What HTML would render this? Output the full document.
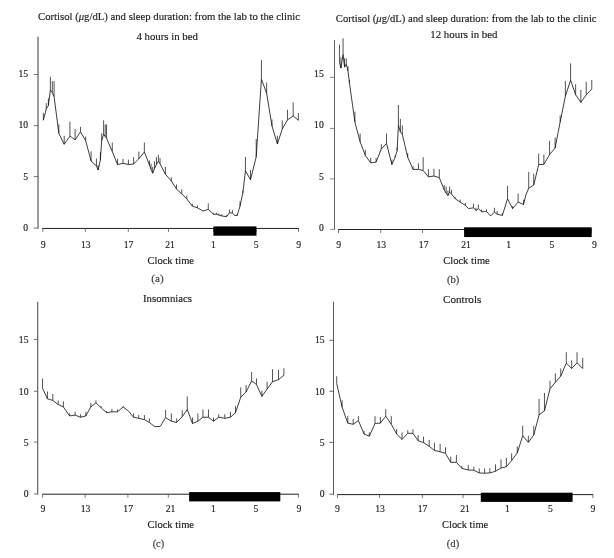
<!DOCTYPE html>
<html lang="en">
<head>
<meta charset="utf-8">
<title>Cortisol and sleep duration</title>
<style>
html,body{margin:0;padding:0;background:#fff;}
body{width:614px;height:558px;overflow:hidden;}
svg{display:block;font-family:'Liberation Serif', serif;}
</style>
</head>
<body>
<svg width="614" height="558" viewBox="0 0 614 558">
<rect width="614" height="558" fill="#fff"/>
<g id="panel-a">
<line x1="38.05" y1="36.8" x2="38.05" y2="228.8" stroke="#8a8a8a" stroke-width="1.7"/>
<line x1="33.7" y1="228.1" x2="38.05" y2="228.1" stroke="#555" stroke-width="0.8"/>
<text x="25.72" y="231.0" text-anchor="middle" font-size="11.2" fill="#1c1c1c" stroke="#1c1c1c" stroke-width="0.16" textLength="4.85" lengthAdjust="spacingAndGlyphs">0</text>
<line x1="33.7" y1="176.6" x2="38.05" y2="176.6" stroke="#555" stroke-width="0.8"/>
<text x="25.72" y="179.7" text-anchor="middle" font-size="11.2" fill="#1c1c1c" stroke="#1c1c1c" stroke-width="0.16" textLength="4.85" lengthAdjust="spacingAndGlyphs">5</text>
<line x1="33.7" y1="125.6" x2="38.05" y2="125.6" stroke="#555" stroke-width="0.8"/>
<text x="23.3" y="128.4" text-anchor="middle" font-size="11.2" fill="#1c1c1c" stroke="#1c1c1c" stroke-width="0.16" textLength="9.7" lengthAdjust="spacingAndGlyphs">10</text>
<line x1="33.7" y1="74.5" x2="38.05" y2="74.5" stroke="#555" stroke-width="0.8"/>
<text x="23.3" y="76.9" text-anchor="middle" font-size="11.2" fill="#1c1c1c" stroke="#1c1c1c" stroke-width="0.16" textLength="9.7" lengthAdjust="spacingAndGlyphs">15</text>
<line x1="42.2" y1="228.45" x2="298.9" y2="228.45" stroke="#141414" stroke-width="0.95"/>
<line x1="42.8" y1="228.45" x2="42.8" y2="231.85" stroke="#555" stroke-width="0.8"/>
<line x1="85.4" y1="228.45" x2="85.4" y2="231.85" stroke="#555" stroke-width="0.8"/>
<line x1="128.3" y1="228.45" x2="128.3" y2="231.85" stroke="#555" stroke-width="0.8"/>
<line x1="168.5" y1="228.45" x2="168.5" y2="231.85" stroke="#555" stroke-width="0.8"/>
<line x1="213.5" y1="228.45" x2="213.5" y2="231.85" stroke="#555" stroke-width="0.8"/>
<line x1="256.0" y1="228.45" x2="256.0" y2="231.85" stroke="#555" stroke-width="0.8"/>
<line x1="298.5" y1="228.45" x2="298.5" y2="231.85" stroke="#555" stroke-width="0.8"/>
<text x="43.1" y="247.8" text-anchor="middle" font-size="11.2" fill="#1c1c1c" stroke="#1c1c1c" stroke-width="0.16" textLength="4.85" lengthAdjust="spacingAndGlyphs">9</text>
<text x="85.8" y="247.8" text-anchor="middle" font-size="11.2" fill="#1c1c1c" stroke="#1c1c1c" stroke-width="0.16" textLength="9.7" lengthAdjust="spacingAndGlyphs">13</text>
<text x="128.5" y="247.8" text-anchor="middle" font-size="11.2" fill="#1c1c1c" stroke="#1c1c1c" stroke-width="0.16" textLength="9.7" lengthAdjust="spacingAndGlyphs">17</text>
<text x="170.1" y="247.8" text-anchor="middle" font-size="11.2" fill="#1c1c1c" stroke="#1c1c1c" stroke-width="0.16" textLength="9.7" lengthAdjust="spacingAndGlyphs">21</text>
<text x="213.5" y="247.8" text-anchor="middle" font-size="11.2" fill="#1c1c1c" stroke="#1c1c1c" stroke-width="0.16" textLength="4.85" lengthAdjust="spacingAndGlyphs">1</text>
<text x="256.1" y="247.8" text-anchor="middle" font-size="11.2" fill="#1c1c1c" stroke="#1c1c1c" stroke-width="0.16" textLength="4.85" lengthAdjust="spacingAndGlyphs">5</text>
<text x="298.7" y="247.8" text-anchor="middle" font-size="11.2" fill="#1c1c1c" stroke="#1c1c1c" stroke-width="0.16" textLength="4.85" lengthAdjust="spacingAndGlyphs">9</text>
<rect x="213.4" y="226.4" width="43.10" height="9.30" fill="#000"/>
<text x="170.75" y="264.0" text-anchor="middle" font-size="11.2" fill="#1c1c1c" stroke="#1c1c1c" stroke-width="0.16" textLength="46.6" lengthAdjust="spacingAndGlyphs">Clock time</text>
<text x="157.5" y="282.4" text-anchor="middle" font-size="11.2" fill="#3a3a3a" stroke="#3a3a3a" stroke-width="0.16" textLength="12.4" lengthAdjust="spacingAndGlyphs">(a)</text>
<text x="169.0" y="19.9" text-anchor="middle" font-size="11.2" fill="#1c1c1c" stroke="#1c1c1c" stroke-width="0.16" textLength="262.0" lengthAdjust="spacingAndGlyphs">Cortisol (<tspan font-style="italic">μ</tspan>g/dL) and sleep duration: from the lab to the clinic</text>
<text x="167.2" y="39.7" text-anchor="middle" font-size="11.2" fill="#1c1c1c" stroke="#1c1c1c" stroke-width="0.16" textLength="61.6" lengthAdjust="spacingAndGlyphs">4 hours in bed</text>
<path d="M43.36 120.22 L46.29 108.82 L48.40 105.57 L50.36 90.11 L52.31 92.55 L54.10 96.62 L58.83 133.36 L64.20 144.27 L69.90 136.13 L75.11 139.87 L80.49 131.74 L85.70 140.69 L91.07 161.03 L96.45 165.91 L98.08 169.98 L100.36 160.22 L101.66 140.69 L103.62 134.18 L105.24 136.62 L106.55 138.25 L112.28 151.50 L117.49 164.52 L123.03 163.38 L128.40 164.52 L133.62 164.03 L138.83 158.82 L144.36 151.99 L149.58 165.33 L151.04 169.40 L152.67 173.15 L154.46 168.59 L156.42 164.52 L158.37 161.27 L160.00 163.71 L165.37 174.29 L171.30 180.92 L176.51 189.06 L181.73 193.94 L186.78 198.82 L192.31 206.15 L197.36 207.78 L203.06 211.03 L208.27 209.40 L213.65 214.29 L216.42 214.29 L218.86 215.10 L221.79 215.91 L226.51 216.73 L229.45 212.66 L232.38 213.15 L234.66 215.42 L237.10 215.59 L240.03 206.15 L242.80 193.13 L245.46 170.80 L250.50 179.75 L256.21 156.96 L261.42 79.29 L266.63 93.13 L272.00 126.04 L277.38 143.94 L282.26 128.97 L287.48 119.86 L293.18 115.95 L298.39 120.34" fill="none" stroke="#000" stroke-width="0.76" stroke-linejoin="round"/>
<path d="M43.36 120.22V112.89M46.29 108.82V103.13M48.40 105.57V98.25M50.36 90.11V76.76M52.31 92.55V81.16M54.10 96.62V81.16M58.83 133.36V124.41M64.20 144.27V135.80M69.90 136.13V121.65M75.11 139.87V128.97M80.49 131.74V126.85M85.70 140.69V136.62M91.07 161.03V151.27M96.45 165.91V158.59M98.08 169.98V165.10M100.36 160.22V152.08M101.66 140.69V133.36M103.62 134.18V120.34M105.24 136.62V124.41M106.55 138.25V124.41M112.28 151.50V142.55M117.49 164.52V158.82M123.03 163.38V158.82M128.40 164.52V159.64M133.62 164.03V157.20M138.83 158.82V151.50M144.36 151.99V142.55M149.58 165.33V160.45M151.04 169.40V163.71M152.67 173.15V166.96M154.46 168.59V161.27M156.42 164.52V157.20M158.37 161.27V154.76M160.00 163.71V158.01M165.37 174.29V166.96M171.30 180.92V177.34M176.51 189.06V184.50M181.73 193.94V189.39M186.78 198.82V195.57M192.31 206.15V203.71M197.36 207.78V205.33M208.27 209.40V203.38M213.65 214.29V212.66M216.42 214.29V212.66M218.86 215.10V213.47M221.79 215.91V214.29M226.51 216.73V215.10M229.45 212.66V209.40M232.38 213.15V209.89M237.10 215.59V214.29M240.03 206.15V201.27M242.80 193.13V190.69M245.46 170.80V156.96M250.50 179.75V169.98M256.21 156.96V139.06M261.42 79.29V60.09M266.63 93.13V82.55M272.00 126.04V119.53M277.38 143.94V135.80M282.26 128.97V120.34M287.48 119.86V109.76M293.18 115.95V102.44M298.39 120.34V113.02" fill="none" stroke="#0a0a0a" stroke-width="0.7"/>
</g>
<g id="panel-b">
<line x1="334.5" y1="40.0" x2="334.5" y2="229.7" stroke="#3c3c3c" stroke-width="0.8"/>
<line x1="330.2" y1="229.35" x2="334.5" y2="229.35" stroke="#666" stroke-width="0.8"/>
<text x="321.32" y="231.0" text-anchor="middle" font-size="11.2" fill="#1c1c1c" stroke="#1c1c1c" stroke-width="0.16" textLength="4.85" lengthAdjust="spacingAndGlyphs">0</text>
<line x1="330.2" y1="178.9" x2="334.5" y2="178.9" stroke="#666" stroke-width="0.8"/>
<text x="321.32" y="179.7" text-anchor="middle" font-size="11.2" fill="#1c1c1c" stroke="#1c1c1c" stroke-width="0.16" textLength="4.85" lengthAdjust="spacingAndGlyphs">5</text>
<line x1="330.2" y1="128.4" x2="334.5" y2="128.4" stroke="#666" stroke-width="0.8"/>
<text x="318.9" y="128.4" text-anchor="middle" font-size="11.2" fill="#1c1c1c" stroke="#1c1c1c" stroke-width="0.16" textLength="9.7" lengthAdjust="spacingAndGlyphs">10</text>
<line x1="330.2" y1="77.3" x2="334.5" y2="77.3" stroke="#666" stroke-width="0.8"/>
<text x="318.9" y="76.9" text-anchor="middle" font-size="11.2" fill="#1c1c1c" stroke="#1c1c1c" stroke-width="0.16" textLength="9.7" lengthAdjust="spacingAndGlyphs">15</text>
<line x1="338.1" y1="229.5" x2="591.5" y2="229.5" stroke="#141414" stroke-width="0.95"/>
<line x1="338.5" y1="229.5" x2="338.5" y2="233.1" stroke="#555" stroke-width="0.8"/>
<line x1="380.7" y1="229.5" x2="380.7" y2="233.1" stroke="#555" stroke-width="0.8"/>
<line x1="422.5" y1="229.5" x2="422.5" y2="233.1" stroke="#555" stroke-width="0.8"/>
<line x1="464.8" y1="229.5" x2="464.8" y2="233.1" stroke="#555" stroke-width="0.8"/>
<line x1="507.0" y1="229.5" x2="507.0" y2="233.1" stroke="#555" stroke-width="0.8"/>
<line x1="549.4" y1="229.5" x2="549.4" y2="233.1" stroke="#555" stroke-width="0.8"/>
<line x1="591.2" y1="229.5" x2="591.2" y2="233.1" stroke="#555" stroke-width="0.8"/>
<text x="338.7" y="247.8" text-anchor="middle" font-size="11.2" fill="#1c1c1c" stroke="#1c1c1c" stroke-width="0.16" textLength="4.85" lengthAdjust="spacingAndGlyphs">9</text>
<text x="381.3" y="247.8" text-anchor="middle" font-size="11.2" fill="#1c1c1c" stroke="#1c1c1c" stroke-width="0.16" textLength="9.7" lengthAdjust="spacingAndGlyphs">13</text>
<text x="423.7" y="247.8" text-anchor="middle" font-size="11.2" fill="#1c1c1c" stroke="#1c1c1c" stroke-width="0.16" textLength="9.7" lengthAdjust="spacingAndGlyphs">17</text>
<text x="466.1" y="247.8" text-anchor="middle" font-size="11.2" fill="#1c1c1c" stroke="#1c1c1c" stroke-width="0.16" textLength="9.7" lengthAdjust="spacingAndGlyphs">21</text>
<text x="508.7" y="247.8" text-anchor="middle" font-size="11.2" fill="#1c1c1c" stroke="#1c1c1c" stroke-width="0.16" textLength="4.85" lengthAdjust="spacingAndGlyphs">1</text>
<text x="551.85" y="247.8" text-anchor="middle" font-size="11.2" fill="#1c1c1c" stroke="#1c1c1c" stroke-width="0.16" textLength="4.85" lengthAdjust="spacingAndGlyphs">5</text>
<text x="594.3" y="247.8" text-anchor="middle" font-size="11.2" fill="#1c1c1c" stroke="#1c1c1c" stroke-width="0.16" textLength="4.85" lengthAdjust="spacingAndGlyphs">9</text>
<rect x="464.1" y="227.3" width="127.60" height="9.75" fill="#000"/>
<text x="466.5" y="264.0" text-anchor="middle" font-size="11.2" fill="#1c1c1c" stroke="#1c1c1c" stroke-width="0.16" textLength="46.6" lengthAdjust="spacingAndGlyphs">Clock time</text>
<text x="453.2" y="283.0" text-anchor="middle" font-size="11.2" fill="#3a3a3a" stroke="#3a3a3a" stroke-width="0.16" textLength="12.4" lengthAdjust="spacingAndGlyphs">(b)</text>
<text x="466.2" y="22.0" text-anchor="middle" font-size="11.2" fill="#1c1c1c" stroke="#1c1c1c" stroke-width="0.16" textLength="260.8" lengthAdjust="spacingAndGlyphs">Cortisol (<tspan font-style="italic">μ</tspan>g/dL) and sleep duration: from the lab to the clinic</text>
<text x="463.9" y="38.0" text-anchor="middle" font-size="11.2" fill="#1c1c1c" stroke="#1c1c1c" stroke-width="0.16" textLength="67.2" lengthAdjust="spacingAndGlyphs">12 hours in bed</text>
<path d="M339.46 62.22 L340.93 68.08 L343.08 54.41 L344.54 67.11 L346.30 64.18 L347.96 71.01 L349.43 82.73 L354.92 122.21 L360.13 141.74 L365.34 155.57 L370.72 162.89 L376.09 162.08 L381.30 149.06 L386.51 143.36 L391.89 164.52 L395.15 157.20 L397.10 150.69 L398.40 125.33 L400.36 131.84 L402.31 134.29 L407.69 157.20 L413.06 169.40 L418.44 169.40 L423.16 170.54 L428.40 176.85 L433.94 176.04 L439.32 177.67 L444.20 189.87 L446.16 193.13 L447.95 195.57 L449.58 192.31 L451.53 193.94 L455.28 198.82 L460.16 202.08 L465.37 205.33 L468.63 208.59 L473.52 207.78 L475.96 210.54 L478.40 208.59 L481.66 211.84 L486.55 211.52 L490.62 215.91 L494.36 212.17 L497.13 214.29 L502.35 215.42 L507.54 198.82 L512.59 208.59 L518.13 202.08 L523.50 204.52 L525.94 194.76 L528.71 188.25 L533.76 184.99 L538.65 164.65 L543.86 164.32 L549.58 154.52 L555.11 148.01 L560.16 121.97 L565.37 96.38 L570.59 80.11 L575.64 94.76 L580.85 102.41 L586.22 94.76 L591.76 89.06" fill="none" stroke="#000" stroke-width="0.76" stroke-linejoin="round"/>
<path d="M339.46 62.22V44.65M340.93 68.08V57.34M343.08 54.41V38.30M344.54 67.11V58.32M346.30 64.18V58.32M347.96 71.01V66.13M349.43 82.73V79.80M354.92 122.21V111.63M360.13 141.74V133.60M365.34 155.57V149.87M370.72 162.89V158.01M376.09 162.08V158.01M381.30 149.06V144.18M386.51 143.36V133.60M391.89 164.52V159.64M395.15 157.20V155.57M397.10 150.69V147.43M398.40 125.33V104.99M400.36 131.84V118.82M402.31 134.29V125.33M407.69 157.20V153.13M413.06 169.40V166.15M418.44 169.40V163.38M423.16 170.54V157.20M428.40 176.85V169.20M433.94 176.04V168.72M439.32 177.67V169.20M444.20 189.87V184.99M446.16 193.13V186.62M447.95 195.57V190.69M449.58 192.31V186.62M451.53 193.94V189.87M455.28 198.82V197.20M460.16 202.08V199.64M465.37 205.33V202.89M473.52 207.78V203.71M475.96 210.54V207.78M478.40 208.59V204.52M481.66 211.84V209.40M486.55 211.52V209.40M494.36 212.17V207.78M497.13 214.29V211.03M502.35 215.42V213.47M507.54 198.82V185.80M512.59 208.59V206.15M518.13 202.08V193.62M523.50 204.52V199.64M528.71 188.25V171.97M533.76 184.99V173.60M538.65 164.65V153.58M543.86 164.32V154.56M549.58 154.52V140.69M555.11 148.01V137.43M560.16 121.97V115.46M565.37 96.38V80.92M570.59 80.11V63.35M575.64 94.76V84.18M580.85 102.41V89.87M586.22 94.76V81.74M591.76 89.06V80.11" fill="none" stroke="#0a0a0a" stroke-width="0.7"/>
</g>
<g id="panel-c">
<line x1="37.7" y1="301.8" x2="37.7" y2="494.5" stroke="#555" stroke-width="1.1"/>
<line x1="34.0" y1="493.9" x2="37.7" y2="493.9" stroke="#555" stroke-width="0.8"/>
<text x="26.07" y="497.4" text-anchor="middle" font-size="11.2" fill="#1c1c1c" stroke="#1c1c1c" stroke-width="0.16" textLength="4.85" lengthAdjust="spacingAndGlyphs">0</text>
<line x1="34.0" y1="442.1" x2="37.7" y2="442.1" stroke="#555" stroke-width="0.8"/>
<text x="26.07" y="445.8" text-anchor="middle" font-size="11.2" fill="#1c1c1c" stroke="#1c1c1c" stroke-width="0.16" textLength="4.85" lengthAdjust="spacingAndGlyphs">5</text>
<line x1="34.0" y1="391.3" x2="37.7" y2="391.3" stroke="#555" stroke-width="0.8"/>
<text x="23.65" y="394.8" text-anchor="middle" font-size="11.2" fill="#1c1c1c" stroke="#1c1c1c" stroke-width="0.16" textLength="9.7" lengthAdjust="spacingAndGlyphs">10</text>
<line x1="34.0" y1="339.5" x2="37.7" y2="339.5" stroke="#555" stroke-width="0.8"/>
<text x="23.65" y="343.3" text-anchor="middle" font-size="11.2" fill="#1c1c1c" stroke="#1c1c1c" stroke-width="0.16" textLength="9.7" lengthAdjust="spacingAndGlyphs">15</text>
<line x1="42.3" y1="494.2" x2="298.8" y2="494.2" stroke="#141414" stroke-width="0.95"/>
<line x1="42.6" y1="494.2" x2="42.6" y2="497.59999999999997" stroke="#555" stroke-width="0.8"/>
<line x1="85.2" y1="494.2" x2="85.2" y2="497.59999999999997" stroke="#555" stroke-width="0.8"/>
<line x1="127.9" y1="494.2" x2="127.9" y2="497.59999999999997" stroke="#555" stroke-width="0.8"/>
<line x1="168.3" y1="494.2" x2="168.3" y2="497.59999999999997" stroke="#555" stroke-width="0.8"/>
<line x1="213.0" y1="494.2" x2="213.0" y2="497.59999999999997" stroke="#555" stroke-width="0.8"/>
<line x1="255.5" y1="494.2" x2="255.5" y2="497.59999999999997" stroke="#555" stroke-width="0.8"/>
<line x1="298.5" y1="494.2" x2="298.5" y2="497.59999999999997" stroke="#555" stroke-width="0.8"/>
<text x="42.8" y="512.4" text-anchor="middle" font-size="11.2" fill="#1c1c1c" stroke="#1c1c1c" stroke-width="0.16" textLength="4.85" lengthAdjust="spacingAndGlyphs">9</text>
<text x="85.5" y="512.4" text-anchor="middle" font-size="11.2" fill="#1c1c1c" stroke="#1c1c1c" stroke-width="0.16" textLength="9.7" lengthAdjust="spacingAndGlyphs">13</text>
<text x="128.2" y="512.4" text-anchor="middle" font-size="11.2" fill="#1c1c1c" stroke="#1c1c1c" stroke-width="0.16" textLength="9.7" lengthAdjust="spacingAndGlyphs">17</text>
<text x="170.6" y="512.4" text-anchor="middle" font-size="11.2" fill="#1c1c1c" stroke="#1c1c1c" stroke-width="0.16" textLength="9.7" lengthAdjust="spacingAndGlyphs">21</text>
<text x="213.4" y="512.4" text-anchor="middle" font-size="11.2" fill="#1c1c1c" stroke="#1c1c1c" stroke-width="0.16" textLength="4.85" lengthAdjust="spacingAndGlyphs">1</text>
<text x="255.8" y="512.4" text-anchor="middle" font-size="11.2" fill="#1c1c1c" stroke="#1c1c1c" stroke-width="0.16" textLength="4.85" lengthAdjust="spacingAndGlyphs">5</text>
<text x="298.8" y="512.4" text-anchor="middle" font-size="11.2" fill="#1c1c1c" stroke="#1c1c1c" stroke-width="0.16" textLength="4.85" lengthAdjust="spacingAndGlyphs">9</text>
<rect x="189.1" y="492.1" width="91.20" height="9.30" fill="#000"/>
<text x="170.75" y="528.0" text-anchor="middle" font-size="11.2" fill="#1c1c1c" stroke="#1c1c1c" stroke-width="0.16" textLength="46.6" lengthAdjust="spacingAndGlyphs">Clock time</text>
<text x="158.45" y="547.0" text-anchor="middle" font-size="11.2" fill="#3a3a3a" stroke="#3a3a3a" stroke-width="0.16" textLength="11.6" lengthAdjust="spacingAndGlyphs">(c)</text>
<text x="167.5" y="302.3" text-anchor="middle" font-size="11.2" fill="#1c1c1c" stroke="#1c1c1c" stroke-width="0.16" textLength="49.0" lengthAdjust="spacingAndGlyphs">Insomniacs</text>
<path d="M42.54 388.25 L47.43 398.82 L52.80 400.45 L58.18 404.52 L63.39 406.96 L69.58 415.91 L75.11 415.10 L80.49 417.22 L85.86 415.91 L90.75 406.96 L95.96 402.89 L101.17 407.78 L106.55 412.66 L111.92 411.84 L117.46 411.84 L123.16 406.96 L128.47 411.03 L133.52 417.22 L138.73 418.35 L144.43 419.66 L149.32 422.42 L154.53 426.49 L160.23 426.49 L165.60 417.54 L171.30 421.28 L176.68 422.42 L182.21 416.73 L187.26 409.40 L192.48 423.56 L197.85 421.28 L202.93 417.22 L208.47 417.22 L213.52 421.28 L218.73 417.22 L224.76 418.35 L230.46 417.22 L235.50 412.66 L240.72 397.20 L246.09 391.99 L251.63 380.92 L256.51 384.50 L261.89 396.38 L267.10 389.06 L272.48 381.74 L278.50 379.62 L283.88 375.23" fill="none" stroke="#000" stroke-width="0.76" stroke-linejoin="round"/>
<path d="M42.54 388.25V378.48M47.43 398.82V391.50M52.80 400.45V393.94M58.18 404.52V400.45M63.39 406.96V401.27M69.58 415.91V413.47M75.11 415.10V411.84M80.49 417.22V414.29M85.86 415.91V411.84M90.75 406.96V402.89M95.96 402.89V400.45M101.17 407.78V406.15M106.55 412.66V411.03M111.92 411.84V408.92M117.46 411.84V409.40M123.16 406.96V406.15M133.52 417.22V413.47M138.73 418.35V415.10M144.43 419.66V415.10M149.32 422.42V418.35M165.60 417.54V409.89M171.30 421.28V413.47M176.68 422.42V418.35M182.21 416.73V410.22M187.26 409.40V396.38M192.48 423.56V417.54M197.85 421.28V413.47M202.93 417.22V409.40M208.47 417.22V409.40M213.52 421.28V417.54M218.73 417.22V414.29M224.76 418.35V414.29M230.46 417.22V411.84M235.50 412.66V406.15M240.72 397.20V387.43M246.09 391.99V384.99M251.63 380.92V371.97M256.51 384.50V378.48M261.89 396.38V390.69M267.10 389.06V381.74M272.48 381.74V369.20M278.50 379.62V369.86M283.88 375.23V368.23" fill="none" stroke="#0a0a0a" stroke-width="0.7"/>
</g>
<g id="panel-d">
<line x1="333.5" y1="301.8" x2="333.5" y2="494.6" stroke="#5a5a5a" stroke-width="1.05"/>
<line x1="329.4" y1="494.2" x2="333.5" y2="494.2" stroke="#444" stroke-width="0.8"/>
<text x="322.18" y="497.4" text-anchor="middle" font-size="11.2" fill="#1c1c1c" stroke="#1c1c1c" stroke-width="0.16" textLength="4.85" lengthAdjust="spacingAndGlyphs">0</text>
<line x1="329.4" y1="442.4" x2="333.5" y2="442.4" stroke="#444" stroke-width="0.8"/>
<text x="322.18" y="445.8" text-anchor="middle" font-size="11.2" fill="#1c1c1c" stroke="#1c1c1c" stroke-width="0.16" textLength="4.85" lengthAdjust="spacingAndGlyphs">5</text>
<line x1="329.4" y1="391.3" x2="333.5" y2="391.3" stroke="#444" stroke-width="0.8"/>
<text x="319.75" y="394.8" text-anchor="middle" font-size="11.2" fill="#1c1c1c" stroke="#1c1c1c" stroke-width="0.16" textLength="9.7" lengthAdjust="spacingAndGlyphs">10</text>
<line x1="329.4" y1="340.3" x2="333.5" y2="340.3" stroke="#444" stroke-width="0.8"/>
<text x="319.75" y="343.3" text-anchor="middle" font-size="11.2" fill="#1c1c1c" stroke="#1c1c1c" stroke-width="0.16" textLength="9.7" lengthAdjust="spacingAndGlyphs">15</text>
<line x1="337.2" y1="494.6" x2="593.2" y2="494.6" stroke="#141414" stroke-width="0.95"/>
<line x1="337.5" y1="494.6" x2="337.5" y2="498.0" stroke="#555" stroke-width="0.8"/>
<line x1="379.5" y1="494.6" x2="379.5" y2="498.0" stroke="#555" stroke-width="0.8"/>
<line x1="422.4" y1="494.6" x2="422.4" y2="498.0" stroke="#555" stroke-width="0.8"/>
<line x1="463.1" y1="494.6" x2="463.1" y2="498.0" stroke="#555" stroke-width="0.8"/>
<line x1="507.4" y1="494.6" x2="507.4" y2="498.0" stroke="#555" stroke-width="0.8"/>
<line x1="550.4" y1="494.6" x2="550.4" y2="498.0" stroke="#555" stroke-width="0.8"/>
<line x1="592.9" y1="494.6" x2="592.9" y2="498.0" stroke="#555" stroke-width="0.8"/>
<text x="337.5" y="512.4" text-anchor="middle" font-size="11.2" fill="#1c1c1c" stroke="#1c1c1c" stroke-width="0.16" textLength="4.85" lengthAdjust="spacingAndGlyphs">9</text>
<text x="380.0" y="512.4" text-anchor="middle" font-size="11.2" fill="#1c1c1c" stroke="#1c1c1c" stroke-width="0.16" textLength="9.7" lengthAdjust="spacingAndGlyphs">13</text>
<text x="422.6" y="512.4" text-anchor="middle" font-size="11.2" fill="#1c1c1c" stroke="#1c1c1c" stroke-width="0.16" textLength="9.7" lengthAdjust="spacingAndGlyphs">17</text>
<text x="465.0" y="512.4" text-anchor="middle" font-size="11.2" fill="#1c1c1c" stroke="#1c1c1c" stroke-width="0.16" textLength="9.7" lengthAdjust="spacingAndGlyphs">21</text>
<text x="507.4" y="512.4" text-anchor="middle" font-size="11.2" fill="#1c1c1c" stroke="#1c1c1c" stroke-width="0.16" textLength="4.85" lengthAdjust="spacingAndGlyphs">1</text>
<text x="550.4" y="512.4" text-anchor="middle" font-size="11.2" fill="#1c1c1c" stroke="#1c1c1c" stroke-width="0.16" textLength="4.85" lengthAdjust="spacingAndGlyphs">5</text>
<text x="592.9" y="512.4" text-anchor="middle" font-size="11.2" fill="#1c1c1c" stroke="#1c1c1c" stroke-width="0.16" textLength="4.85" lengthAdjust="spacingAndGlyphs">9</text>
<rect x="480.8" y="492.7" width="91.80" height="9.20" fill="#000"/>
<text x="465.1" y="528.0" text-anchor="middle" font-size="11.2" fill="#1c1c1c" stroke="#1c1c1c" stroke-width="0.16" textLength="46.2" lengthAdjust="spacingAndGlyphs">Clock time</text>
<text x="453.0" y="547.0" text-anchor="middle" font-size="11.2" fill="#3a3a3a" stroke="#3a3a3a" stroke-width="0.16" textLength="12.4" lengthAdjust="spacingAndGlyphs">(d)</text>
<text x="462.2" y="302.6" text-anchor="middle" font-size="11.2" fill="#1c1c1c" stroke="#1c1c1c" stroke-width="0.16" textLength="38.2" lengthAdjust="spacingAndGlyphs">Controls</text>
<path d="M336.73 383.60 L342.10 407.20 L347.80 423.15 L353.18 424.29 L358.39 420.54 L364.09 434.05 L369.30 436.17 L375.00 423.47 L380.37 423.15 L385.75 416.15 L391.29 424.29 L396.66 434.05 L402.04 439.42 L407.74 433.24 L412.93 433.36 L418.14 440.69 L423.52 442.64 L429.22 446.38 L434.43 450.45 L440.13 451.75 L445.50 453.38 L450.72 462.33 L456.42 462.33 L461.79 468.35 L468.31 469.98 L473.84 470.31 L479.22 472.91 L484.59 473.24 L489.80 472.91 L495.49 471.28 L501.03 468.03 L506.40 466.73 L511.61 460.54 L517.31 452.89 L522.69 435.80 L528.39 442.31 L533.76 434.99 L539.09 414.86 L544.46 410.80 L550.00 388.82 L555.37 382.31 L560.75 376.13 L566.29 363.11 L571.66 368.48 L577.04 362.78 L582.74 368.48" fill="none" stroke="#000" stroke-width="0.76" stroke-linejoin="round"/>
<path d="M336.73 383.60V376.27M342.10 407.20V400.36M347.80 423.15V416.15M353.18 424.29V418.92M358.39 420.54V416.15M364.09 434.05V430.80M369.30 436.17V432.42M375.00 423.47V416.15M380.37 423.15V416.96M385.75 416.15V409.15M391.29 424.29V416.15M396.66 434.05V429.17M402.04 439.42V432.42M407.74 433.24V430.31M412.93 433.36V429.29M418.14 440.69V434.99M423.52 442.64V436.62M429.22 446.38V439.87M434.43 450.45V442.64M440.13 451.75V443.94M445.50 453.38V447.20M450.72 462.33V456.64M456.42 462.33V455.01M461.79 468.35V465.91M468.31 469.98V465.10M473.84 470.31V466.73M479.22 472.91V468.35M484.59 473.24V468.35M489.80 472.91V468.35M495.49 471.28V464.29M501.03 468.03V459.40M506.40 466.73V457.78M511.61 460.54V453.38M517.31 452.89V446.38M522.69 435.80V425.71M528.39 442.31V435.80M533.76 434.99V426.04M539.09 414.86V398.92M544.46 410.80V392.89M550.00 388.82V380.69M555.37 382.31V373.36M560.75 376.13V368.48M566.29 363.11V352.21M571.66 368.48V360.34M577.04 362.78V352.21M582.74 368.48V357.90" fill="none" stroke="#0a0a0a" stroke-width="0.7"/>
</g>
</svg>
</body>
</html>
